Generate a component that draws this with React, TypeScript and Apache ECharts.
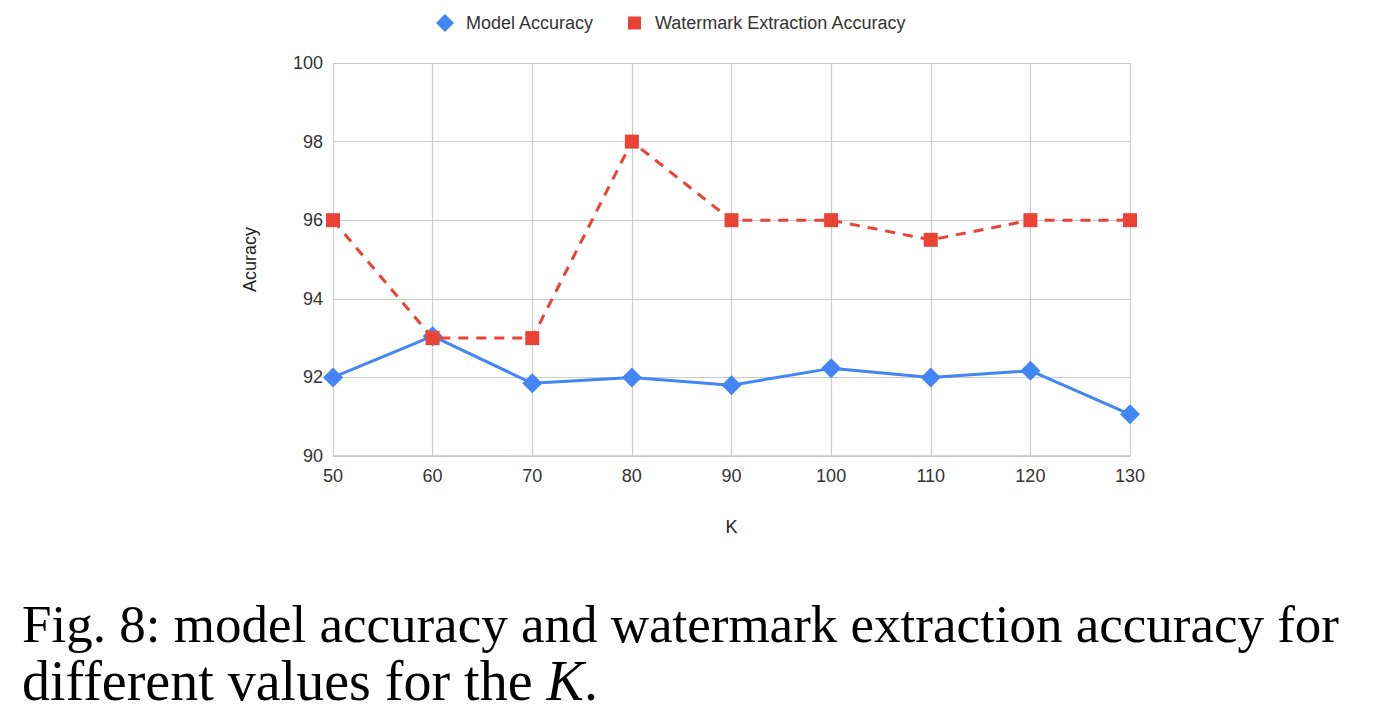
import React, { useEffect, useRef } from "react";
import * as echarts from "echarts";

const kValues = [50, 60, 70, 80, 90, 100, 110, 120, 130];
const modelAccuracy = [92.0, 93.05, 91.85, 92.0, 91.8, 92.23, 92.0, 92.17, 91.06];
const watermarkAccuracy = [96, 93, 93, 98, 96, 96, 95.5, 96, 96];
const seriesNames = ["Model Accuracy", "Watermark Extraction Accuracy"];
const captionLines = [
  "Fig. 8: model accuracy and watermark extraction accuracy for",
  "different values for the ",
];

export default function App() {
  const ref = useRef<HTMLDivElement>(null);
  useEffect(() => {
    document.body.style.margin = "0";
    const chart = echarts.init(ref.current!, null, { renderer: "svg" });
    const font = "Liberation Sans, Arial, sans-serif";
    const serif = "'Liberation Serif', 'Times New Roman', serif";
    chart.setOption({
      animation: false,
      backgroundColor: "#ffffff",
      legend: [
        {
          top: 9,
          left: 431,
          itemWidth: 18,
          itemHeight: 18,
          textStyle: { fontFamily: font, fontSize: 18, color: "#333", padding: [0, 0, 0, 7] },
          data: [{ name: seriesNames[0], icon: "diamond" }],
        },
        {
          top: 9,
          left: 623,
          itemWidth: 13,
          itemHeight: 13,
          textStyle: { fontFamily: font, fontSize: 18, color: "#333", padding: [0, 0, 0, 9] },
          data: [{ name: seriesNames[1], icon: "rect" }],
        },
      ],
      grid: { left: 333, right: 244, top: 63, bottom: 264 },
      xAxis: {
        type: "value",
        min: 50,
        max: 130,
        interval: 10,
        name: "K",
        nameLocation: "middle",
        nameGap: 62,
        nameTextStyle: { fontFamily: font, fontSize: 18, color: "#222" },
        axisLine: { show: true, lineStyle: { color: "#c8c8c8", width: 1.5 } },
        axisTick: { show: false },
        axisLabel: { fontFamily: font, fontSize: 18, color: "#333", margin: 11 },
        splitLine: { show: true, lineStyle: { color: "#cccccc", width: 1.2 } },
      },
      yAxis: {
        type: "value",
        min: 90,
        max: 100,
        interval: 2,
        name: "Acuracy",
        nameLocation: "middle",
        nameGap: 74,
        nameRotate: 90,
        nameTextStyle: { fontFamily: font, fontSize: 18, color: "#222" },
        axisLine: { show: false },
        axisTick: { show: false },
        axisLabel: { fontFamily: font, fontSize: 18, color: "#333", margin: 10 },
        splitLine: { show: true, lineStyle: { color: "#cccccc", width: 1.2 } },
      },
      series: [
        {
          name: seriesNames[0],
          type: "line",
          data: kValues.map((k, i) => [k, modelAccuracy[i]]),
          symbol: "diamond",
          symbolSize: 20,
          itemStyle: { color: "#4285F4" },
          lineStyle: { color: "#4285F4", width: 3 },
          z: 3,
        },
        {
          name: seriesNames[1],
          type: "line",
          data: kValues.map((k, i) => [k, watermarkAccuracy[i]]),
          symbol: "rect",
          symbolSize: 14,
          itemStyle: { color: "#EA4335" },
          lineStyle: { color: "#EA4335", width: 3, type: [10, 8] },
          z: 4,
        },
      ],
      graphic: [
        {
          type: "text",
          left: 22,
          top: 597,
          style: {
            text: captionLines[0],
            font: "53px " + serif,
            fill: "#000",
          },
        },
        {
          type: "text",
          left: 22,
          top: 653,
          style: {
            rich: {
              n: { font: "56px " + serif, fill: "#000" },
              i: { font: "italic 56px " + serif, fill: "#000" },
            },
            text: "{n|" + captionLines[1] + "}{i|K}{n|.}",
          },
        },
      ],
    });
    return () => chart.dispose();
  }, []);
  return <div ref={ref} style={{ width: 1374, height: 720 }} />;
}
